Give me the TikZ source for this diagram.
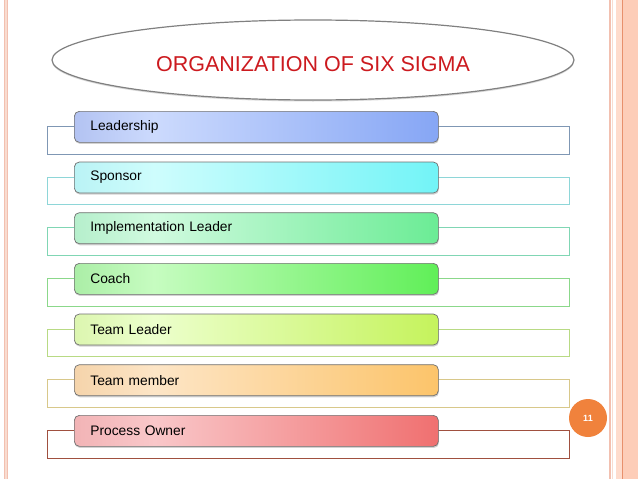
\documentclass[tikz,border=0pt]{standalone}
\usepackage{fontspec}
\setmainfont{Liberation Sans}
\usetikzlibrary{shapes.geometric,shadows}

% row colours: A = left edge, B = light zone, C = right end, L = outline
\definecolor{rowaA}{HTML}{B3C3F2}\definecolor{rowaB}{HTML}{CCDAFD}\definecolor{rowaC}{HTML}{86A6F5}\definecolor{rowaL}{HTML}{7F97B4}
\definecolor{rowbA}{HTML}{BAF3F5}\definecolor{rowbB}{HTML}{CEFDFD}\definecolor{rowbC}{HTML}{72F4F7}\definecolor{rowbL}{HTML}{8ED6D8}
\definecolor{rowcA}{HTML}{B6EFCC}\definecolor{rowcB}{HTML}{D0FADF}\definecolor{rowcC}{HTML}{6BEC95}\definecolor{rowcL}{HTML}{80D6B4}
\definecolor{rowdA}{HTML}{ABEEA7}\definecolor{rowdB}{HTML}{C6FCC0}\definecolor{rowdC}{HTML}{60EF58}\definecolor{rowdL}{HTML}{8BD88A}
\definecolor{roweA}{HTML}{DCF6B0}\definecolor{roweB}{HTML}{ECFFCC}\definecolor{roweC}{HTML}{C5F35C}\definecolor{roweL}{HTML}{B8DA84}
\definecolor{rowfA}{HTML}{F5D4AB}\definecolor{rowfB}{HTML}{FDE5C6}\definecolor{rowfC}{HTML}{FCC46A}\definecolor{rowfL}{HTML}{D8C88A}
\definecolor{rowgA}{HTML}{F2B4B6}\definecolor{rowgB}{HTML}{F9C7C9}\definecolor{rowgC}{HTML}{F07070}\definecolor{rowgL}{HTML}{A0503F}
\definecolor{titlered}{HTML}{CC1A1F}
\definecolor{numorange}{HTML}{F0823C}
\definecolor{bordpink}{HTML}{F2C0B0}
\definecolor{bordlight}{HTML}{F9DCD0}
\definecolor{bordsalmon}{HTML}{FDCDB8}
\definecolor{borddark}{HTML}{E8906C}
\definecolor{boxedge}{HTML}{707070}

\newcommand\mkrowshade[1]{%
  \pgfdeclarehorizontalshading{sh#1}{100bp}{color(0bp)=(#1A); color(25bp)=(#1A); color(36bp)=(#1B); color(75bp)=(#1C); color(100bp)=(#1C)}}
\mkrowshade{rowa}\mkrowshade{rowb}\mkrowshade{rowc}\mkrowshade{rowd}
\mkrowshade{rowe}\mkrowshade{rowf}\mkrowshade{rowg}

\tikzset{
  rowbox/.style={draw=boxedge, line width=0.7pt, rounded corners=5pt,
    anchor=north west, minimum height=31pt, text width=332pt, inner xsep=16pt,
    inner ysep=0pt, align=left, font=\fontsize{13.8}{16}\selectfont,
    drop shadow={shadow xshift=0.6pt, shadow yshift=-1.6pt, opacity=0.35}},
  rowframe/.style={line width=1pt},
  titleell/.style={ellipse, draw=gray, line width=1.2pt, minimum width=522pt,
    minimum height=80pt, inner sep=0pt, fill=white,
    drop shadow={shadow xshift=0pt, shadow yshift=-1.5pt, opacity=0.3}},
  titletext/.style={text=titlered, font=\fontsize{21.5}{25}\selectfont, inner sep=0pt},
  pagenum/.style={circle, fill=numorange, minimum size=38pt, inner sep=0pt,
    text=white, font=\bfseries\fontsize{9}{10}\selectfont}
}

\begin{document}
\begin{tikzpicture}[x=1pt,y=-1pt]
\useasboundingbox[fill=white] (0,0) rectangle (638,479);
% left border stripe
\fill[bordlight] (4,0) rectangle (7.5,479);
\draw[bordpink, line width=1.2pt] (4.5,0) -- (4.5,479);
\draw[bordpink, line width=0.6pt] (7.5,0) -- (7.5,479);
% right border
\draw[bordpink, line width=1.2pt] (610,0) -- (610,479);
\draw[bordlight, line width=1pt] (612.8,0) -- (612.8,479);
\fill[bordsalmon!70!white] (616,0) rectangle (622,479);
\fill[bordsalmon] (622.5,0) rectangle (638,479);
\draw[borddark, line width=1.2pt] (622.5,0) -- (622.5,479);

% title
\node[titleell] (title) at (313,60) {};
\node[titletext] (titlelabel) at (313,64.5) {ORGANIZATION OF SIX SIGMA};

% rows
\foreach \ri/\rk/\rt in {0/rowa/Leadership, 1/rowb/Sponsor, 2/rowc/Implementation Leader,
  3/rowd/Coach, 4/rowe/Team Leader, 5/rowf/Team member, 6/rowg/Process Owner}{
  \pgfmathsetmacro\ty{111+50.67*\ri}
  \draw[rowframe, \rk L] (47,\ty+15.5) rectangle (569,\ty+43);
  \node[rowbox, shading=sh\rk] (box\rk) at (74,\ty) {\rt};
}

% page number
\node[pagenum] (pg) at (588,418) {11};
\end{tikzpicture}
\end{document}
